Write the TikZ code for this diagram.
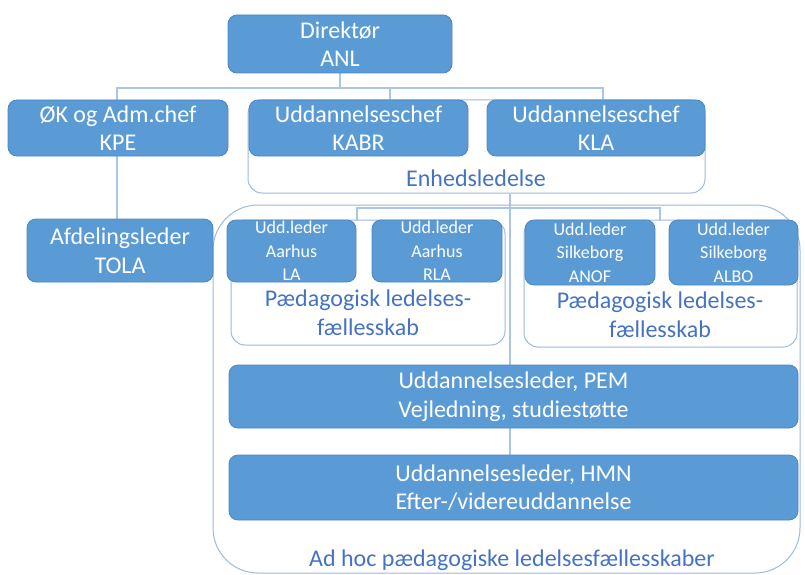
\documentclass[tikz,border=0pt]{standalone}
\usepackage{fontspec}
\setmainfont{Carlito}
\usetikzlibrary{backgrounds}
\definecolor{boxblue}{HTML}{5B9BD5}
\definecolor{boxedge}{HTML}{4A87C0}
\definecolor{lbl}{HTML}{4472C4}
\definecolor{grp}{HTML}{9DB9DC}
\definecolor{connc}{HTML}{A9C6E8}
\begin{document}
\begin{tikzpicture}[x=1pt,y=-1pt,
 bx/.style={fill=boxblue, draw=boxedge, line width=0.8pt, rounded corners=9pt, text=white, align=center, inner sep=0pt, font=\fontsize{24}{28.5}\selectfont},
 sbx/.style={bx, font=\fontsize{18}{23.5}\selectfont},
 grpbox/.style={draw=grp, line width=1pt, rounded corners=14pt, inner sep=0pt},
 lab/.style={text=lbl, align=center, inner sep=0pt, font=\fontsize{24}{29}\selectfont},
 cn/.style={draw=connc, line width=1.3pt}]
\useasboundingbox (0,0) rectangle (805,575);
% groups
\node[grpbox, minimum width=587pt, minimum height=368pt, rounded corners=45pt] (adhoc) at (506.5,389) {};
\node[grpbox, minimum width=457pt, minimum height=93pt] (enh) at (476.5,146.5) {};
\node[grpbox, minimum width=274pt, minimum height=125pt] (sub1) at (368,282.5) {};
\node[grpbox, minimum width=273pt, minimum height=127pt] (sub2) at (660.5,283.5) {};
% boxes
\node[bx, minimum width=224pt, minimum height=58pt] (dir) at (340,44) {Direktør\\ANL};
\node[bx, minimum width=220pt, minimum height=56pt] (ok) at (118,128) {ØK og Adm.chef\\KPE};
\node[bx, minimum width=219pt, minimum height=56pt] (kabr) at (358.5,128) {Uddannelseschef\\KABR};
\node[bx, minimum width=218pt, minimum height=56pt] (kla) at (596,128) {Uddannelseschef\\KLA};
\node[bx, minimum width=186pt, minimum height=63pt] (afd) at (120,250.5) {Afdelingsleder\\TOLA};
\node[sbx, minimum width=129pt, minimum height=62pt] (la) at (291.5,251) {Udd.leder\\Aarhus\\LA};
\node[sbx, minimum width=130pt, minimum height=62pt] (rla) at (437,251) {Udd.leder\\Aarhus\\RLA};
\node[sbx, minimum width=130pt, minimum height=65pt] (anof) at (590,252.5) {Udd.leder\\Silkeborg\\ANOF};
\node[sbx, minimum width=129pt, minimum height=65pt] (albo) at (733.5,252.5) {\raisebox{3pt}{\parbox{120pt}{\centering Udd.leder\\Silkeborg\\ALBO}}};
\node[bx, minimum width=569pt, minimum height=63pt] (pem) at (513.5,396.5) {Uddannelsesleder, PEM\\Vejledning, studiestøtte};
\node[bx, minimum width=569pt, minimum height=65pt] (hmn) at (513.5,487.5) {Uddannelsesleder, HMN\\Efter-/videreuddannelse};
% labels
\node[lab] (enhl) at (476,178) {Enhedsledelse};
\node[lab] (sub1l) at (368,312.5) {Pædagogisk ledelses-\\fællesskab};
\node[lab] (sub2l) at (660,315) {Pædagogisk ledelses-\\fællesskab};
\node[lab] (adhocl) at (512,560) {Ad hoc pædagogiske ledelsesfællesskaber};
% connectors
\begin{scope}[on background layer]
\coordinate (t) at (340,88);
\coordinate (hl) at (117,88);
\coordinate (hk) at (390,88);
\coordinate (hr) at (603,88);
\coordinate (v) at (510,0);
\coordinate (a1) at (357,208);
\coordinate (a2) at (660,208);
\draw[cn] (dir.south) -- (t);
\draw[cn] (ok.north -| hl) -- (hl) -- (hr) -- (kla.north -| hr);
\draw[cn] (hk) -- (kabr.north -| hk);
\draw[cn] (ok.south -| hl) -- (afd.north -| hl);
\draw[cn] (enh.south -| v) -- (hmn.north -| v);
\draw[cn] (sub1.north -| a1) -- (a1) -- (a2) -- (sub2.north -| a2);
\end{scope}
\end{tikzpicture}
\end{document}
